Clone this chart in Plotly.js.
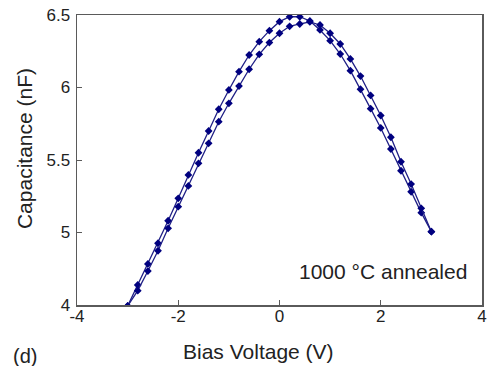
<!DOCTYPE html>
<html>
<head>
<meta charset="utf-8">
<script src="https://cdn.plot.ly/plotly-3.0.1.min.js"></script>
<style>html,body{margin:0;padding:0;background:#fff;}#chart{width:491px;height:366px;}</style>
</head>
<body>
<div id="chart"></div>
<script>
// Bias voltage (V)
var biasVoltage = [-3.0,-2.8,-2.6,-2.4,-2.2,-2.0,-1.8,-1.6,-1.4,-1.2,-1.0,-0.8,-0.6,-0.4,-0.2,0.0,
                   0.2,0.4,0.6,0.8,1.0,1.2,1.4,1.6,1.8,2.0,2.2,2.4,2.6,2.8,3.0];
// Capacitance (nF) — sweep shifted to the left
var capSweepA = [4.493,4.638,4.783,4.926,5.081,5.236,5.397,5.550,5.700,5.850,5.983,6.109,6.224,6.316,6.392,6.454,
                 6.488,6.488,6.459,6.397,6.323,6.231,6.116,5.988,5.854,5.721,5.576,5.426,5.281,5.137,5.006];
// Capacitance (nF) — sweep shifted to the right
var capSweepB = [4.493,4.599,4.734,4.874,5.029,5.178,5.321,5.477,5.615,5.764,5.891,6.010,6.126,6.229,6.310,6.374,
                 6.422,6.438,6.452,6.431,6.374,6.300,6.197,6.079,5.945,5.807,5.657,5.488,5.334,5.167,5.006];
var xTickVals = [-4,-2,0,2,4];
var xTickText = ["-4","-2","0","2","4"];
var yTickVals = [4.5,5,5.5,6,6.5];
var yTickText = ["4","5","5.5","6","6.5"];

var font = "Liberation Sans, Arial, Helvetica, sans-serif";
var lineColor = "#1f1f86";
var markerColor = "#00007f";

function sweep(y){
  return {
    x: biasVoltage, y: y, type: "scatter", mode: "lines+markers",
    line: {color: lineColor, width: 1.3},
    marker: {symbol: "diamond", size: 6, color: markerColor},
    showlegend: false, hoverinfo: "skip"
  };
}

var axisCommon = {
  showline: true, mirror: true, linecolor: "#5a5a5a", linewidth: 1.5,
  ticks: "inside", ticklen: 5, tickwidth: 1, tickcolor: "#5a5a5a",
  showgrid: false, zeroline: false,
  tickfont: {family: font, size: 17, color: "#222"}
};

var layout = {
  width: 491, height: 366,
  margin: {l: 77, r: 9, t: 15, b: 61},
  paper_bgcolor: "#fff", plot_bgcolor: "#fff",
  xaxis: Object.assign({}, axisCommon, {range: [-4, 4], tickvals: xTickVals, ticktext: xTickText, ticklabelstandoff: -5}),
  yaxis: Object.assign({}, axisCommon, {range: [4.5, 6.5], tickvals: yTickVals, ticktext: yTickText, ticklabelstandoff: 2}),
  annotations: [
    {text: "Capacitance (nF)", xref: "paper", yref: "paper", x: -0.131, y: 0.541,
     textangle: -90, showarrow: false, xanchor: "center", yanchor: "middle",
     font: {family: font, size: 21, color: "#222"}},
    {text: "Bias Voltage (V)", xref: "paper", yref: "paper", x: 0.449, y: -0.159,
     showarrow: false, xanchor: "center", yanchor: "middle",
     font: {family: font, size: 21, color: "#222"}},
    {text: "(d)", xref: "paper", yref: "paper", x: -0.128, y: -0.176,
     showarrow: false, xanchor: "center", yanchor: "middle",
     font: {family: font, size: 20, color: "#222"}},
    {text: "1000 °C annealed", xref: "paper", yref: "paper", x: 0.756, y: 0.114,
     showarrow: false, xanchor: "center", yanchor: "middle",
     font: {family: font, size: 21, color: "#222"}}
  ]
};

Plotly.newPlot("chart", [sweep(capSweepA), sweep(capSweepB)], layout, {displayModeBar: false, staticPlot: true});
</script>
</body>
</html>
